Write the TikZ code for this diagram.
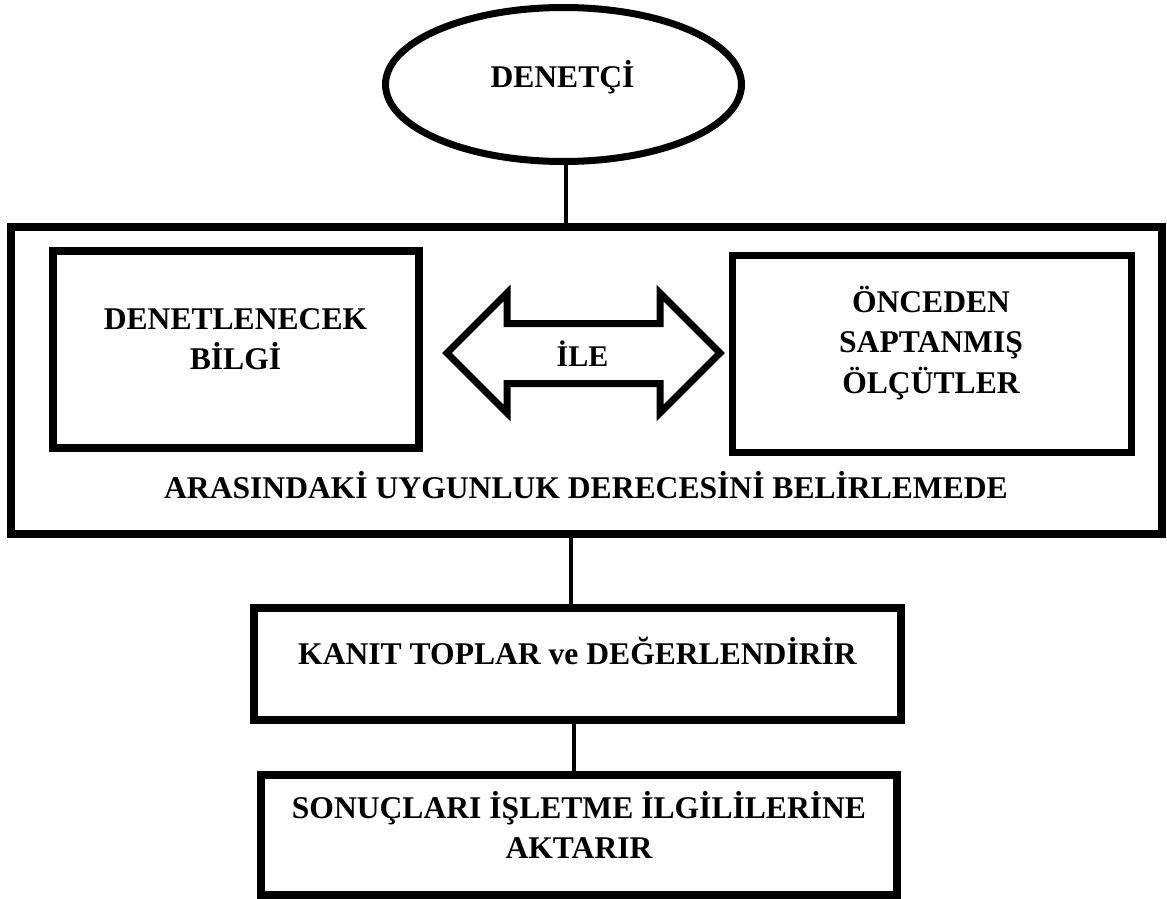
\documentclass[tikz,border=0pt]{standalone}
\usepackage{fontspec}
\setmainfont{Liberation Serif}
\usetikzlibrary{shapes.geometric}
\begin{document}
\begin{tikzpicture}[x=1pt,y=-1pt,
  frame/.style={draw, rectangle, line width=8pt, inner sep=0pt, outer sep=0pt},
  txt/.style={font=\bfseries\fontsize{31.6}{40.5}\selectfont, inner sep=0pt, anchor=base},
  link/.style={line width=4pt}]
\fill[white] (0,0) rectangle (1167,899);
\useasboundingbox (0,0) rectangle (1167,899);

% auditor
\node[draw, ellipse, line width=7pt, minimum width=356pt, minimum height=154pt,
      inner sep=0pt, outer sep=0pt] (den) at (563.5,84.5) {};
\node[txt] (denT) at (562.5,88) {DENETÇİ};

% comparison frame
\node[frame, minimum width=1151pt, minimum height=307pt] (big) at (586.5,380.5) {};
\node[frame, minimum width=366pt, minimum height=197pt] (lb) at (236,349.5) {};
\node[frame, line width=7pt, minimum width=399pt, minimum height=196.5pt] (rb) at (932,354) {};

\node[txt] (lbT) at (235.5,329) {\begin{tabular}[t]{@{}c@{}}DENETLENECEK\\BİLGİ\end{tabular}};
\node[txt] (rbT) at (931,312) {\begin{tabular}[t]{@{}c@{}}ÖNCEDEN\\SAPTANMIŞ\\ÖLÇÜTLER\end{tabular}};

% double arrow between the two boxes
\draw[line width=7pt, line join=miter]
  (447,353) -- (507,293) -- (507,323.5) -- (660,323.5) -- (660,293) -- (720,353)
  -- (660,413) -- (660,383.5) -- (507,383.5) -- (507,413) -- cycle;
\node[txt, font=\bfseries\fontsize{30}{36}\selectfont] (ile) at (582.5,366.7) {İLE};

\node[txt] (bigT) at (586,498) {ARASINDAKİ UYGUNLUK DERECESİNİ BELİRLEMEDE};

% evidence and reporting
\node[frame, minimum width=647pt, minimum height=112.5pt] (kb) at (577.5,663.75) {};
\node[txt] (kbT) at (577.5,664) {KANIT TOPLAR ve DEĞERLENDİRİR};

\node[frame, minimum width=636pt, minimum height=120pt] (sb) at (579,835) {};
\node[txt] (sbT) at (579,818) {\begin{tabular}[t]{@{}c@{}}SONUÇLARI İŞLETME İLGİLİLERİNE\\AKTARIR\end{tabular}};

% connectors
\draw[link] ([xshift=2.5pt]den.south) -- ([xshift=2.5pt]den.south |- big.north);
\draw[link] ([xshift=-6.5pt]kb.north |- big.south) -- ([xshift=-6.5pt]kb.north);
\draw[link] ([xshift=-5pt]sb.north |- kb.south) -- ([xshift=-5pt]sb.north);
\end{tikzpicture}
\end{document}
